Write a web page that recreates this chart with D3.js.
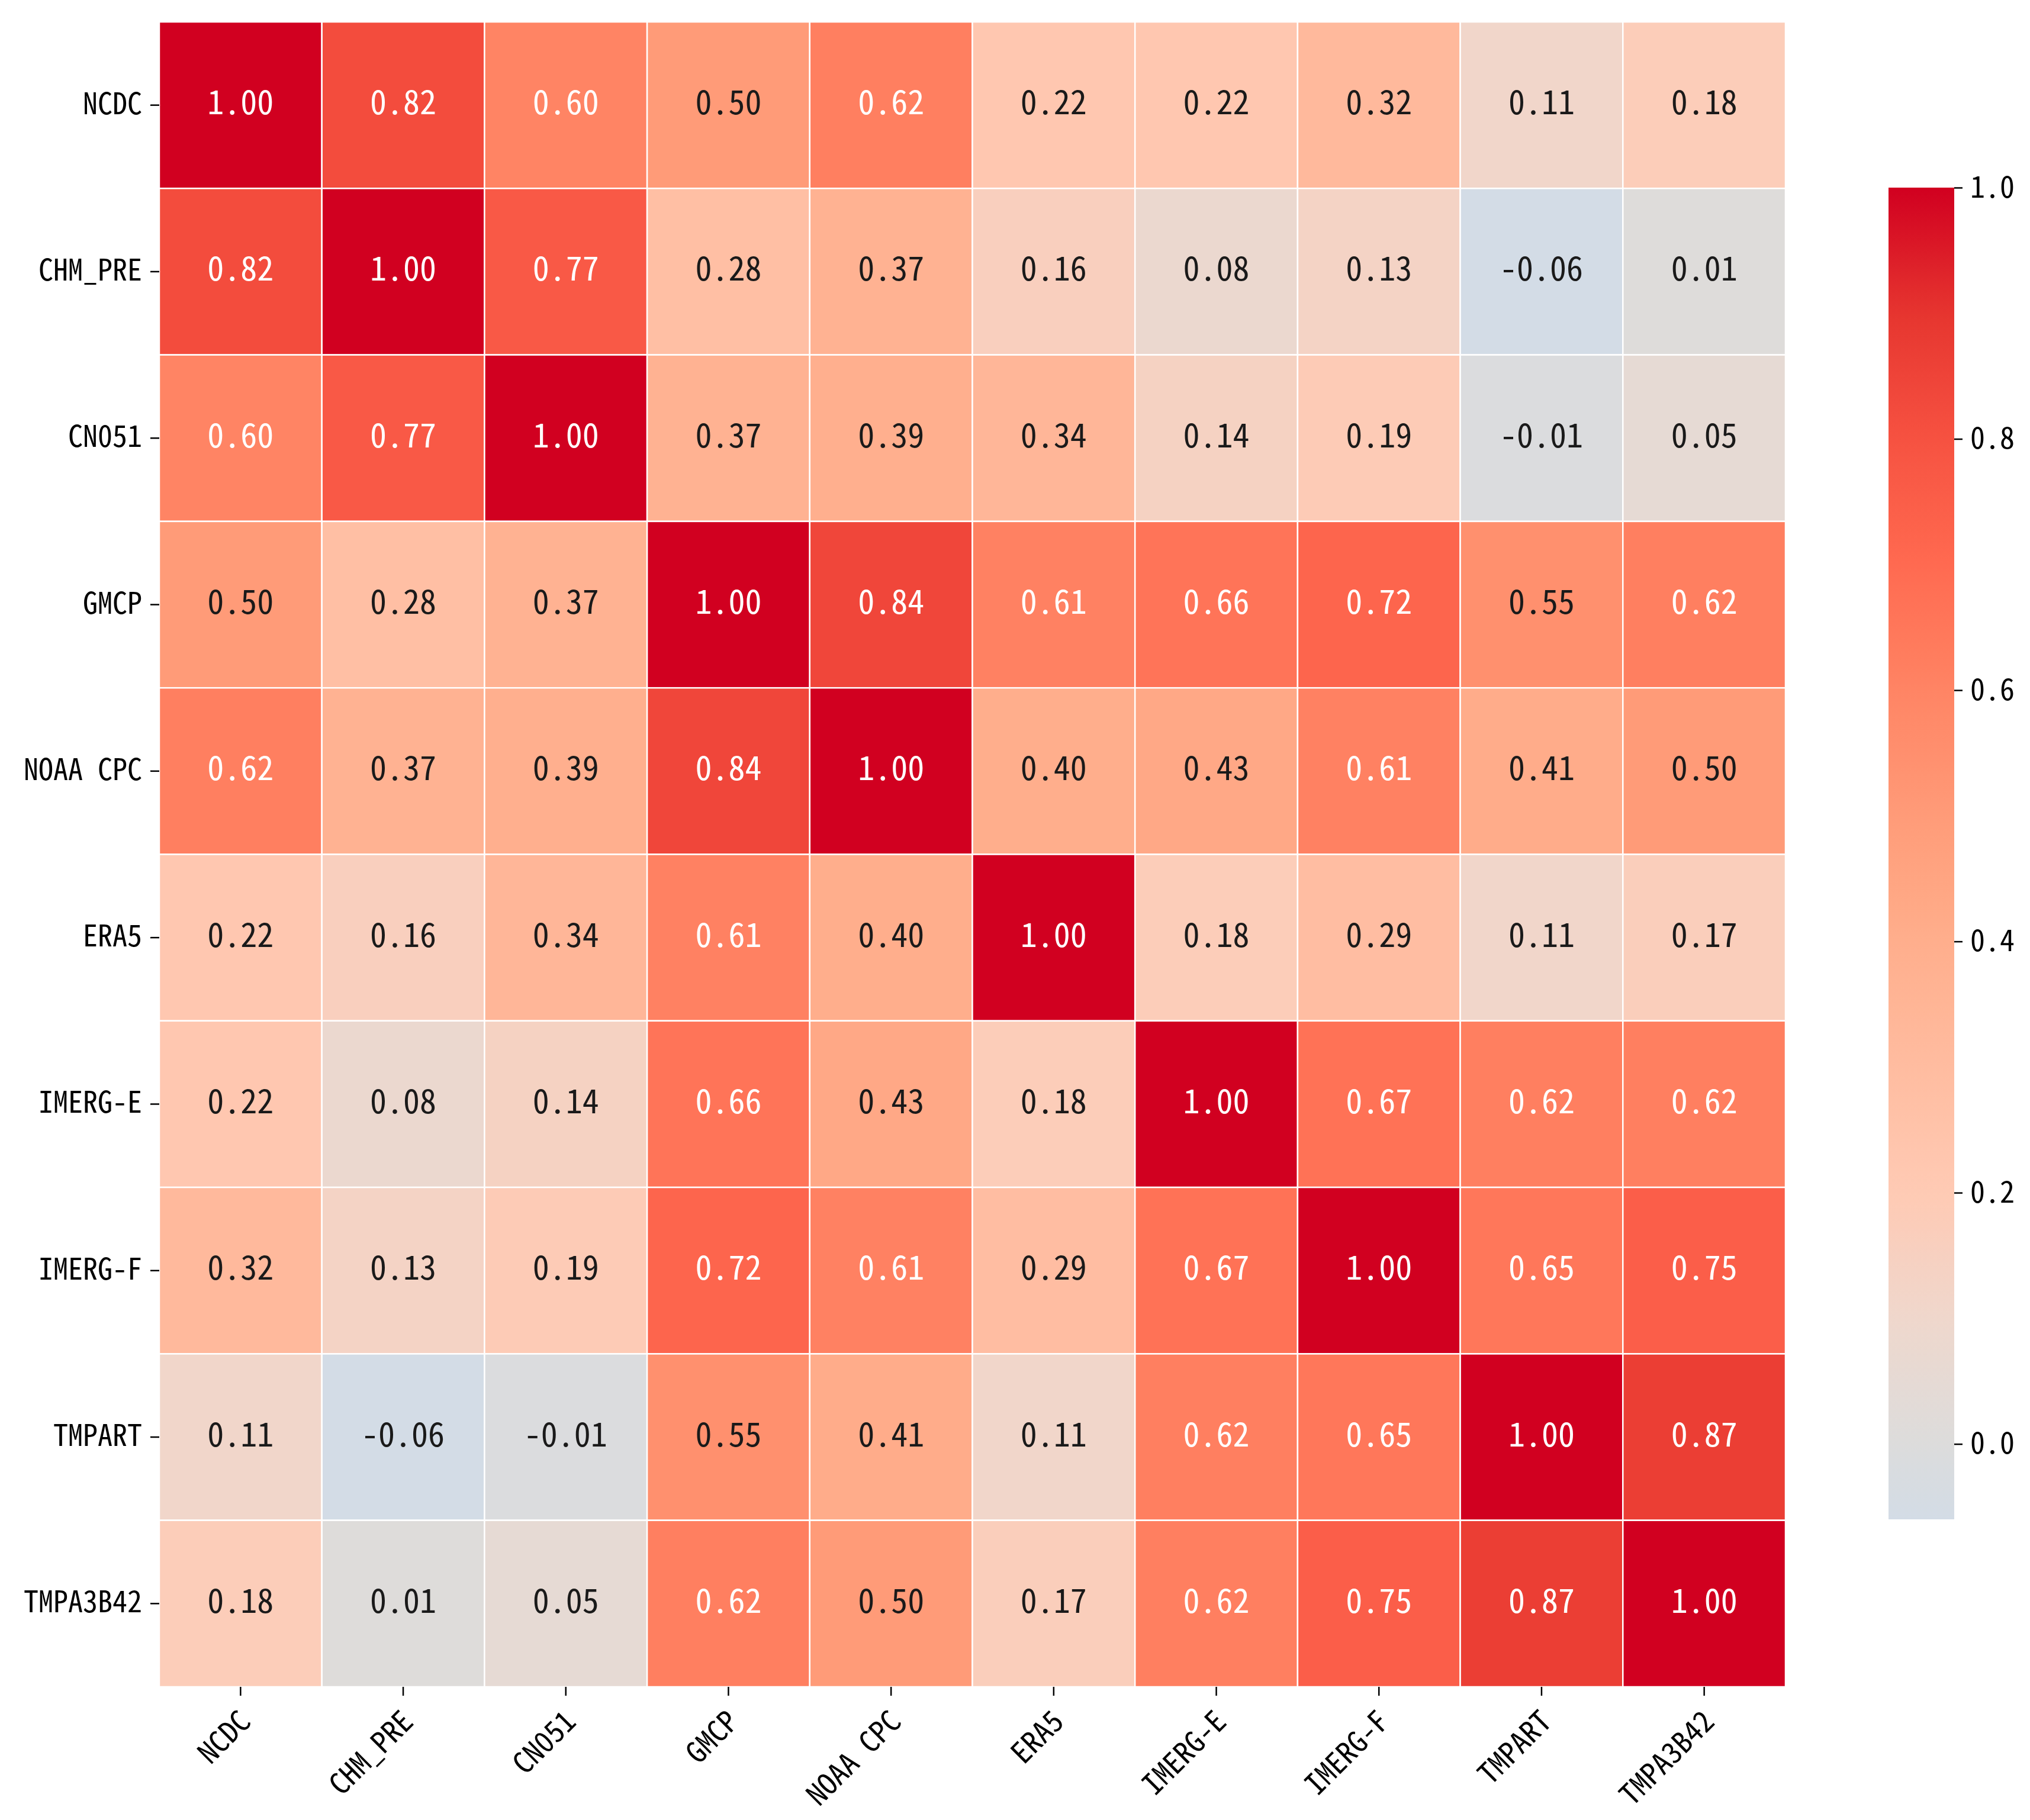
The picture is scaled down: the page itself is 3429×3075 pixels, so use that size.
<!DOCTYPE html>
<html>
<head>
<meta charset="utf-8">
<script src="https://cdn.jsdelivr.net/npm/d3@7"></script>
<style>
  html, body { margin: 0; padding: 0; background: #fff; }
  svg text { font-family: "Noto Sans Mono CJK SC", "DejaVu Sans Mono", monospace; }
</style>
</head>
<body>
<div id="chart"></div>
<script>
// 数据
var labels = ["NCDC", "CHM_PRE", "CN051", "GMCP", "NOAA CPC", "ERA5", "IMERG-E", "IMERG-F", "TMPART", "TMPA3B42"];
var corr = [
  [1.00, 0.82, 0.60, 0.50, 0.62, 0.22, 0.22, 0.32, 0.11, 0.18],
  [0.82, 1.00, 0.77, 0.28, 0.37, 0.16, 0.08, 0.13, -0.06, 0.01],
  [0.60, 0.77, 1.00, 0.37, 0.39, 0.34, 0.14, 0.19, -0.01, 0.05],
  [0.50, 0.28, 0.37, 1.00, 0.84, 0.61, 0.66, 0.72, 0.55, 0.62],
  [0.62, 0.37, 0.39, 0.84, 1.00, 0.40, 0.43, 0.61, 0.41, 0.50],
  [0.22, 0.16, 0.34, 0.61, 0.40, 1.00, 0.18, 0.29, 0.11, 0.17],
  [0.22, 0.08, 0.14, 0.66, 0.43, 0.18, 1.00, 0.67, 0.62, 0.62],
  [0.32, 0.13, 0.19, 0.72, 0.61, 0.29, 0.67, 1.00, 0.65, 0.75],
  [0.11, -0.06, -0.01, 0.55, 0.41, 0.11, 0.62, 0.65, 1.00, 0.87],
  [0.18, 0.01, 0.05, 0.62, 0.50, 0.17, 0.62, 0.75, 0.87, 1.00]
];
var colorbarTicks = [0.0, 0.2, 0.4, 0.6, 0.8, 1.0];
var vmin = -0.06, vmax = 1.0;

// 色带 (从图上取色)
var stopValues = [-0.06, 0.0, 0.1, 0.2, 0.3, 0.4, 0.5, 0.6, 0.7, 0.8, 0.9, 1.0];
var stopColors = ["#d3dce6", "#dcdcdc", "#efd7cc", "#ffcab4", "#ffbca0", "#ffae8c",
                  "#ff9b78", "#ff8464", "#ff6a50", "#f65241", "#e6352f", "#d10020"];

var W = 3429, H = 3075;
var gridL = 269, gridR = 3016, gridT = 37, gridB = 2850;
var cbL = 3190, cbR = 3301, cbT = 317, cbB = 2567;

var svg = d3.select("#chart").append("svg")
  .attr("width", W).attr("height", H)
  .attr("viewBox", "0 0 " + W + " " + H);

var color = d3.scaleLinear().domain(stopValues).range(stopColors).interpolate(d3.interpolateRgb);
var x = d3.scaleBand().domain(labels).range([gridL, gridR]);
var y = d3.scaleBand().domain(labels).range([gridT, gridB]);
var fmt = d3.formatLocale({decimal: ".", thousands: ",", grouping: [3], currency: ["", ""], minus: "-"}).format(".2f");

// 亮度判断文字颜色（同 seaborn）
function textColor(c) {
  var rgb = d3.rgb(c);
  function lin(v) { v = v / 255; return v <= 0.03928 ? v / 12.92 : Math.pow((v + 0.055) / 1.055, 2.4); }
  var L = 0.2126 * lin(rgb.r) + 0.7152 * lin(rgb.g) + 0.0722 * lin(rgb.b);
  return L > 0.408 ? "#1a1a1a" : "#ffffff";
}

var cells = [];
corr.forEach(function(row, i) {
  row.forEach(function(v, j) { cells.push({row: labels[i], col: labels[j], v: v}); });
});

var g = svg.append("g");
g.selectAll("rect.cell").data(cells).enter().append("rect")
  .attr("class", "cell")
  .attr("x", function(d) { return x(d.col); })
  .attr("y", function(d) { return y(d.row); })
  .attr("width", x.bandwidth())
  .attr("height", y.bandwidth())
  .attr("fill", function(d) { return color(d.v); })
  .attr("stroke", "#ffffff")
  .attr("stroke-width", 2.5);

g.selectAll("text.annot").data(cells).enter().append("text")
  .attr("class", "annot")
  .attr("x", function(d) { return x(d.col) + x.bandwidth() / 2; })
  .attr("y", function(d) { return y(d.row) + y.bandwidth() / 2 - 9; })
  .attr("text-anchor", "middle")
  .attr("dominant-baseline", "central")
  .style("font-size", "56px")
  .attr("fill", function(d) { return textColor(color(d.v)); })
  .text(function(d) { return fmt(d.v); });

// 左轴
var yAxis = svg.append("g").attr("transform", "translate(" + gridL + ",0)")
  .call(d3.axisLeft(y).tickSize(15).tickPadding(14));
yAxis.select(".domain").remove();
yAxis.selectAll(".tick line").attr("stroke", "#000").attr("stroke-width", 2.5);
yAxis.selectAll(".tick text").attr("fill", "#000").style("font-size", "50px")
  .attr("dy", "0.3em");

// 下轴
var xAxis = svg.append("g").attr("transform", "translate(0," + gridB + ")")
  .call(d3.axisBottom(x).tickSize(15));
xAxis.select(".domain").remove();
xAxis.selectAll(".tick line").attr("stroke", "#000").attr("stroke-width", 2.5);
xAxis.selectAll(".tick text")
  .attr("fill", "#000").style("font-size", "50px")
  .attr("text-anchor", "end")
  .attr("dy", null)
  .attr("y", 0)
  .attr("transform", "translate(20,62) rotate(-45)");

// 色条
var defs = svg.append("defs");
var grad = defs.append("linearGradient").attr("id", "cbar")
  .attr("x1", 0).attr("y1", 1).attr("x2", 0).attr("y2", 0);
d3.range(0, 1.0001, 0.02).forEach(function(t) {
  grad.append("stop").attr("offset", t).attr("stop-color", color(vmin + t * (vmax - vmin)));
});
svg.append("rect").attr("x", cbL).attr("y", cbT)
  .attr("width", cbR - cbL).attr("height", cbB - cbT)
  .attr("fill", "url(#cbar)");

var cy = d3.scaleLinear().domain([vmin, vmax]).range([cbB, cbT]);
var cAxis = svg.append("g").attr("transform", "translate(" + cbR + ",0)")
  .call(d3.axisRight(cy).tickValues(colorbarTicks).tickFormat(d3.format(".1f")).tickSize(14).tickPadding(13));
cAxis.select(".domain").remove();
cAxis.selectAll(".tick line").attr("stroke", "#000").attr("stroke-width", 2.5);
cAxis.selectAll(".tick text").attr("fill", "#000").style("font-size", "50px");
</script>
</body>
</html>
